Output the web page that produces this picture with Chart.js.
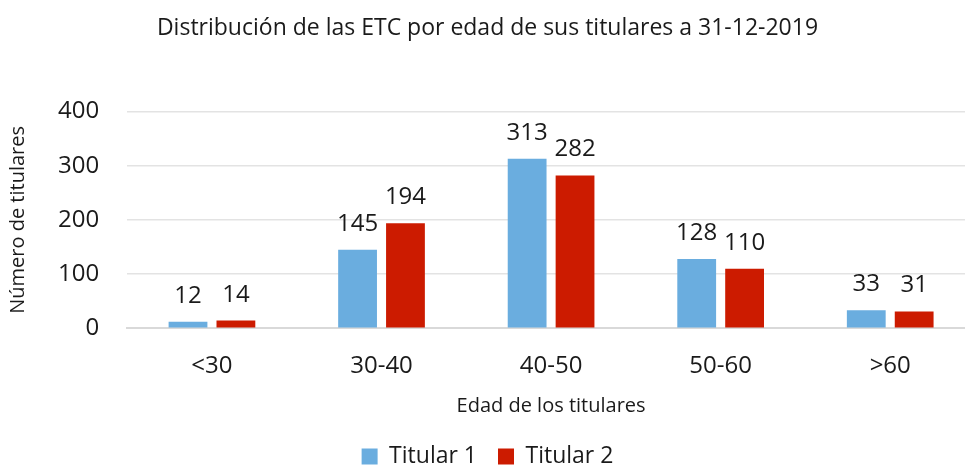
<!DOCTYPE html>
<html>
<head>
<meta charset="utf-8">
<script src="https://cdn.jsdelivr.net/npm/chart.js@4"></script>
<style>
  body { margin: 0; background: #fff; overflow: hidden; }
  /* plot area in the original runs slightly past the right edge */
  #wrap { width: 975px; height: 466px; }
</style>
</head>
<body>
<div id="wrap"><canvas id="chart"></canvas></div>
<script>
const categories = ["<30", "30-40", "40-50", "50-60", ">60"];
const titular1 = [12, 145, 313, 128, 33];
const titular2 = [14, 194, 282, 110, 31];
const yTicks = [0, 100, 200, 300, 400];

const FONT = "'Open Sans', 'Noto Sans', sans-serif";
const TEXT = '#1a1a1a';

// draws the value above each bar
const valueLabels = {
  id: 'valueLabels',
  afterDatasetsDraw(chart) {
    const ctx = chart.ctx;
    ctx.save();
    ctx.font = '24px ' + FONT;
    ctx.fillStyle = TEXT;
    ctx.textAlign = 'center';
    ctx.textBaseline = 'alphabetic';
    chart.data.datasets.forEach((ds, i) => {
      chart.getDatasetMeta(i).data.forEach((bar, j) => {
        ctx.fillText(ds.data[j], bar.x, bar.y - 19);
      });
    });
    ctx.restore();
  }
};

new Chart(document.getElementById('chart'), {
  type: 'bar',
  data: {
    labels: categories,
    datasets: [
      { label: 'Titular 1', data: titular1, backgroundColor: '#6aaddf' },
      { label: 'Titular 2', data: titular2, backgroundColor: '#cc1b00' }
    ]
  },
  options: {
    responsive: true,
    maintainAspectRatio: false,
    animation: false,
    datasets: { bar: { categoryPercentage: 0.565, barPercentage: 0.81 } },
    layout: { padding: { left: 0, right: 0, top: 15, bottom: -12 } },
    plugins: {
      title: {
        display: true,
        text: 'Distribución de las ETC por edad de sus titulares a 31-12-2019',
        color: TEXT,
        font: { family: FONT, size: 23, weight: 'normal' },
        padding: { top: 0, bottom: 69 }
      },
      legend: {
        position: 'bottom',
        labels: {
          color: TEXT,
          font: { family: FONT, size: 23 },
          boxWidth: 16,
          boxHeight: 16,
          padding: 21
        }
      },
      tooltip: { enabled: false }
    },
    scales: {
      x: {
        grid: { display: false },
        border: { color: '#d9d9d9', width: 2 },
        ticks: { color: TEXT, font: { family: FONT, size: 24 }, padding: 16 },
        title: {
          display: true,
          text: 'Edad de los titulares',
          color: TEXT,
          font: { family: FONT, size: 20 },
          padding: { top: -3, bottom: 6 }
        }
      },
      y: {
        min: 0,
        max: 400,
        afterBuildTicks(axis) { axis.ticks = yTicks.map(v => ({ value: v })); },
        grid: { color: '#e3e3e3', lineWidth: 1.5, drawTicks: false },
        border: { display: false },
        ticks: { color: TEXT, font: { family: FONT, size: 24 }, padding: 28 },
        title: {
          display: true,
          text: 'Número de titulares',
          color: TEXT,
          font: { family: FONT, size: 20 },
          padding: { top: 6, bottom: 0 }
        }
      }
    }
  },
  plugins: [valueLabels]
});
</script>
</body>
</html>
